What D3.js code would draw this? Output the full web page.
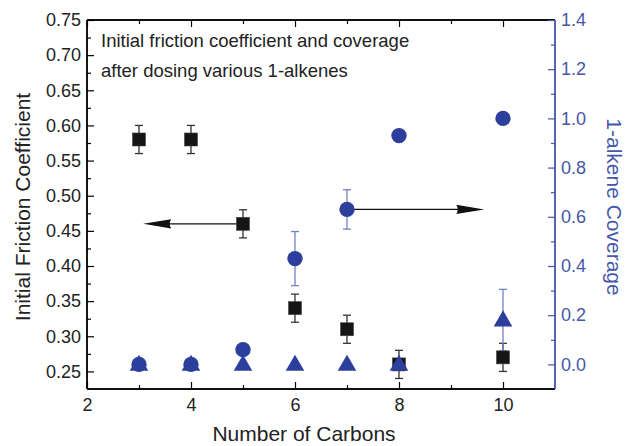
<!DOCTYPE html>
<html>
<head>
<meta charset="utf-8">
<script src="https://cdn.jsdelivr.net/npm/d3@7"></script>
<style>
body { margin: 0; background: #fff; }
#viz svg { display: block; }
</style>
</head>
<body>
<div id="viz"></div>
<script>
// data
const carbons = [3, 4, 5, 6, 7, 8, 10];
const friction = [0.58, 0.58, 0.46, 0.34, 0.31, 0.26, 0.27];
const frictionErr = [0.02, 0.02, 0.02, 0.02, 0.02, 0.02, 0.02];
const coverageCircle = [0.0, 0.0, 0.06, 0.43, 0.63, 0.93, 1.0];
const coverageCircleErr = [0, 0, 0, 0.11, 0.08, 0, 0];
const coverageTriangle = [0, 0, 0, 0, 0, 0, 0.18];
const coverageTriangleErr = [0, 0, 0, 0, 0, 0, 0.125];
const xTicks = [2, 4, 6, 8, 10];
const xMinor = [3, 5, 7, 9];
const leftTicks = [0.25, 0.30, 0.35, 0.40, 0.45, 0.50, 0.55, 0.60, 0.65, 0.70, 0.75];
const leftMinor = [0.275, 0.325, 0.375, 0.425, 0.475, 0.525, 0.575, 0.625, 0.675, 0.725];
const rightTicks = [0.0, 0.2, 0.4, 0.6, 0.8, 1.0, 1.2, 1.4];
const rightMinor = [0.1, 0.3, 0.5, 0.7, 0.9, 1.1, 1.3];
// arrows: [from carbon, to carbon, value, which axis]
const arrows = [[5, 3.08, 0.46, "left"], [7, 9.64, 0.63, "right"]];
const noteLines = ["Initial friction coefficient and coverage", "after dosing various 1-alkenes"];

function draw() {
	let width = 625, height = 446;
	let left = 87, right = 555, top = 20, bottom = 389;
	let blue = "#2d3f9c", axisBlue = "#4557a8", barBlue = "#7282c4";
	let font = "'Liberation Sans', Arial, Helvetica, sans-serif";

	let svg = d3.select("#viz").append("svg")
		.attr("width", width).attr("height", height)
		.attr("viewBox", "0 0 " + width + " " + height);

	let x = d3.scaleLinear().domain([2, 11]).range([left, right]);
	let yL = d3.scaleLinear().domain([0.225, 0.75]).range([bottom, top]);
	let yR = d3.scaleLinear().domain([-0.1, 1.4]).range([bottom, top]);

	// bottom axis
	let gb = svg.append("g").attr("transform", "translate(0," + bottom + ")");
	gb.call(d3.axisBottom(x).tickValues(xTicks).tickSize(-7).tickPadding(9).tickFormat(d3.format("d")));
	gb.append("g").call(d3.axisBottom(x).tickValues(xMinor).tickSize(-4).tickFormat(""));
	// top axis
	let gt = svg.append("g").attr("transform", "translate(0," + top + ")");
	gt.call(d3.axisTop(x).tickValues(xTicks).tickSize(-7).tickFormat(""));
	gt.append("g").call(d3.axisTop(x).tickValues(xMinor).tickSize(-4).tickFormat(""));
	// left axis
	let gl = svg.append("g").attr("transform", "translate(" + left + ",0)");
	gl.call(d3.axisLeft(yL).tickValues(leftTicks).tickSize(-7).tickPadding(6).tickFormat(d3.format(".2f")));
	gl.append("g").call(d3.axisLeft(yL).tickValues(leftMinor).tickSize(-4).tickFormat(""));
	// right axis
	let gr = svg.append("g").attr("transform", "translate(" + right + ",0)");
	gr.call(d3.axisRight(yR).tickValues(rightTicks).tickSize(-7).tickPadding(6).tickFormat(d3.format(".1f")));
	gr.append("g").call(d3.axisRight(yR).tickValues(rightMinor).tickSize(-4).tickFormat(""));

	svg.selectAll(".domain").attr("stroke-width", 1.4);
	svg.selectAll(".tick line").attr("stroke-width", 1.2);
	svg.selectAll(".tick text").style("font-family", font).style("font-size", "18px").attr("fill", "#222");
	gb.selectAll(".domain").attr("d", "M" + left + ",0H" + right);
	gt.selectAll(".domain").attr("d", "M" + left + ",0H" + right);
	gl.selectAll(".domain").attr("d", "M0," + top + "V" + bottom);
	gr.selectAll(".domain").attr("d", "M0," + top + "V" + bottom).attr("stroke", axisBlue);
	gr.selectAll(".tick line").attr("stroke", axisBlue);
	gr.selectAll(".tick text").attr("fill", axisBlue);

	// axis titles
	svg.append("text").text("Number of Carbons")
		.attr("x", 304).attr("y", 441)
		.attr("text-anchor", "middle")
		.style("font-family", font).style("font-size", "21px").attr("fill", "#222");
	svg.append("text").text("Initial Friction Coefficient")
		.attr("transform", "translate(30,207) rotate(-90)")
		.attr("text-anchor", "middle")
		.style("font-family", font).style("font-size", "21px").attr("fill", "#222");
	svg.append("text").text("1-alkene Coverage")
		.attr("transform", "translate(607,207) rotate(90)")
		.attr("text-anchor", "middle")
		.style("font-family", font).style("font-size", "21px").attr("fill", axisBlue);

	// note
	svg.selectAll(".note").data(noteLines).enter().append("text")
		.attr("class", "note")
		.attr("x", 101).attr("y", (d, i) => 47 + i * 30)
		.text(d => d)
		.style("font-family", font).style("font-size", "18.5px").attr("fill", "#222");

	// error bars
	function errBars(vals, errs, yScale, color) {
		let g = svg.append("g").attr("stroke", color).attr("stroke-width", 1.3).attr("fill", "none");
		carbons.forEach((c, i) => {
			if (!errs[i]) return;
			let cx = x(c), y1 = yScale(vals[i] - errs[i]), y2 = yScale(vals[i] + errs[i]);
			g.append("line").attr("x1", cx).attr("x2", cx).attr("y1", y1).attr("y2", y2);
			g.append("line").attr("x1", cx - 4).attr("x2", cx + 4).attr("y1", y1).attr("y2", y1);
			g.append("line").attr("x1", cx - 4).attr("x2", cx + 4).attr("y1", y2).attr("y2", y2);
		});
	}
	errBars(friction, frictionErr, yL, "#333");
	errBars(coverageCircle, coverageCircleErr, yR, barBlue);
	errBars(coverageTriangle, coverageTriangleErr, yR, barBlue);

	// arrows
	arrows.forEach(a => {
		let ys = a[3] == "left" ? yL : yR;
		let x1 = x(a[0]), x2 = x(a[1]), yy = ys(a[2]);
		let dir = x2 > x1 ? 1 : -1;
		svg.append("line")
			.attr("x1", x1).attr("y1", yy).attr("x2", x2 - dir * 20).attr("y2", yy)
			.attr("stroke", "#111").attr("stroke-width", 1.2);
		svg.append("path")
			.attr("d", "M" + x2 + "," + yy + "L" + (x2 - dir * 28) + "," + (yy - 4.7) +
				"Q" + (x2 - dir * 25) + "," + yy + " " + (x2 - dir * 28) + "," + (yy + 4.7) + "Z")
			.attr("fill", "#111");
	});

	// squares
	svg.append("g").selectAll("rect").data(carbons).enter().append("rect")
		.attr("x", (d, i) => x(d) - 6.5).attr("y", (d, i) => yL(friction[i]) - 6.5)
		.attr("width", 13).attr("height", 13)
		.attr("fill", "#151515").attr("stroke", "#444").attr("stroke-width", 0.6);

	// circles
	svg.append("g").selectAll("circle").data(carbons).enter().append("circle")
		.attr("cx", d => x(d)).attr("cy", (d, i) => yR(coverageCircle[i]))
		.attr("r", 7.7).attr("fill", blue);

	// triangles
	let tri = d3.symbol().type(d3.symbolTriangle).size(150);
	svg.append("g").selectAll("path").data(carbons).enter().append("path")
		.attr("d", tri)
		.attr("transform", (d, i) => "translate(" + x(d) + "," + (yR(coverageTriangle[i]) + 1) + ")")
		.attr("fill", blue);
}
draw();
</script>
</body>
</html>
